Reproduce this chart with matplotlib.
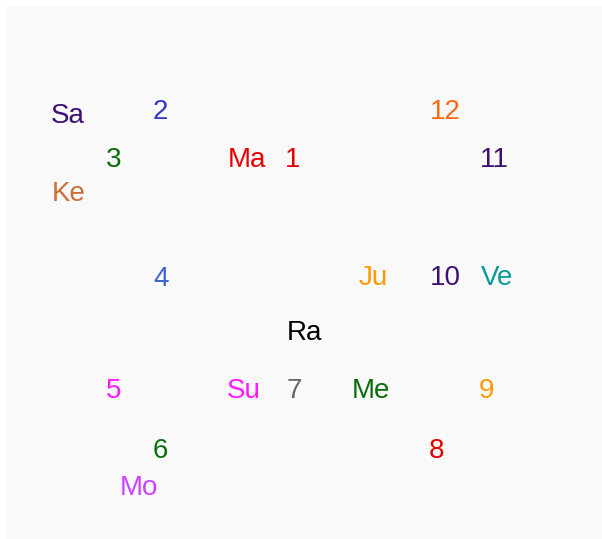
import matplotlib
matplotlib.use("Agg")
import matplotlib.pyplot as plt

plt.rcParams['font.family'] = ['Liberation Sans', 'DejaVu Sans']

# House numbers (label, x, y in chart pixel space, colour)
house_labels = ["1", "2", "3", "4", "5", "6", "7", "8", "9", "10", "11", "12"]
house_x = [293, 160, 114, 161, 114, 160, 294, 436, 487, 445, 494, 445]
house_y = [157, 109, 157, 276, 388, 448, 388, 448, 388, 275, 157, 109]
house_colors = ["#E60000", "#3535CC", "#0A6E0A", "#3A63CC", "#FF1AFF", "#0A6E0A",
                "#666666", "#E60000", "#FF9A00", "#3D0F78", "#3D0F78", "#FF6A13"]

# Planets
planet_labels = ["Ma", "Sa", "Ke", "Ju", "Ve", "Ra", "Su", "Me", "Mo"]
planet_x = [247, 68, 69, 373, 497, 304, 244, 371, 139]
planet_y = [157, 113, 191, 275, 275, 330, 388, 388, 485]
planet_colors = ["#E60000", "#3D0F78", "#CC6E3C", "#FF9A00", "#0A9999", "#000000",
                 "#FF1AFF", "#0A6E0A", "#CC44FF"]

fig = plt.figure(figsize=(6.02, 5.39), dpi=100)
fig.patch.set_facecolor("white")
ax = fig.add_axes([7 / 602, 0, 595 / 602, 533 / 539])
ax.set_facecolor("#F9F9F9")
ax.set_xlim(7, 602)
ax.set_ylim(539, 6)
for s in ax.spines.values():
    s.set_visible(False)
ax.set_xticks([])
ax.set_yticks([])

FS = 20
CAP_HALF = 10

for lab, x, y, c in zip(house_labels, house_x, house_y, house_colors):
    ax.text(x, y + CAP_HALF, lab, color=c, fontsize=FS, ha="center", va="baseline")
for lab, x, y, c in zip(planet_labels, planet_x, planet_y, planet_colors):
    ax.text(x, y + CAP_HALF, lab, color=c, fontsize=FS, ha="center", va="baseline")

fig.savefig("out.png", dpi=100)
